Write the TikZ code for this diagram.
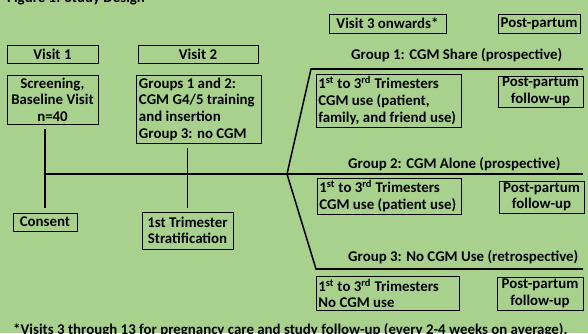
\documentclass[tikz,border=0pt]{standalone}
\usepackage{fontspec}
\setmainfont{Carlito}
\usetikzlibrary{positioning, calc}
\definecolor{Leaf}{HTML}{A9D18E}

\begin{document}
\begin{tikzpicture}[
        x=0.03cm, y=-0.03cm,
        font=\bfseries\fontsize{12.7}{14.2}\selectfont,
        link/.style={line width=1.3pt, draw=black},
        stage/.style={draw=black, line width=0.7pt, inner sep=1pt, align=center},
        plan/.style={draw=black, line width=0.7pt, inner xsep=2pt, inner ysep=2pt, align=flush left},
        grouplabel/.style={anchor=west, inner sep=0pt}
      ]
        \fill[Leaf] (0,0) rectangle (588,333);
        \useasboundingbox (0,0) rectangle (588,333);
        \node[anchor=base west, inner sep=0pt] (title) at (7,2) {Figure 1: Study Design};
        \node[stage, minimum width=2.73cm, minimum height=0.54cm] (visitone) at (52.5,54) {Visit 1};
        \node[stage, minimum width=3.6cm, minimum height=0.54cm] (visittwo) at (198,54) {Visit 2};
        \node[stage, minimum width=2.73cm, minimum height=1.47cm] (screening) at (52.5,99.5) {Screening,\\Baseline Visit\\n=40};
        \node[plan, minimum height=2.04cm, text width=3.6cm] (groups) at (199,109) {Groups 1 and 2:\\CGM G4/5 training\\and insertion\\Group 3: no CGM};
        \node[stage, minimum width=1.92cm, minimum height=0.54cm] (consent) at (45,222) {Consent};
        \node[stage, minimum width=2.73cm, minimum height=1.11cm] (strat) at (187.5,230.5) {1st Trimester\\Stratification};
        \node[stage, minimum width=3.51cm, minimum height=0.57cm] (visitthree) at (387.5,23.5) {Visit 3 onwards*};
        \node[stage, minimum width=2.46cm, minimum height=0.57cm] (postpartum) at (539,23.5) {Post-partum};
        \node[grouplabel] (gonelabel) at (351,55) {Group 1: CGM Share (prospective)};
        \node[grouplabel] (gtwolabel) at (348,164) {Group 2: CGM Alone (prospective)};
        \node[grouplabel] (gthreelabel) at (348,257) {Group 3: No CGM Use (retrospective)};
        \node[plan, minimum height=1.59cm, text width=4.21cm] (trione) at (388.5,100.5) {1\textsuperscript{st} to 3\textsuperscript{rd} Trimesters\\CGM use (patient,\\family, and friend use)};
        \node[stage, minimum width=2.55cm, minimum height=0.93cm] (ppone) at (540.5,91.5) {Post-partum\\follow-up};
        \node[plan, minimum height=1.02cm, text width=4.18cm] (tritwo) at (389,196) {1\textsuperscript{st} to 3\textsuperscript{rd} Trimesters\\CGM use (patient use)};
        \node[stage, minimum width=2.55cm, minimum height=0.96cm] (pptwo) at (541.5,197) {Post-partum\\follow-up};
        \node[plan, minimum height=0.99cm, text width=4.15cm] (trithree) at (387.5,293.5) {1\textsuperscript{st} to 3\textsuperscript{rd} Trimesters\\No CGM use};
        \node[stage, minimum width=2.58cm, minimum height=0.99cm] (ppthree) at (540,293.5) {Post-partum\\follow-up};
        \node[anchor=base west, inner sep=0pt] (note) at (13,334) {*Visits 3 through 13 for pregnancy care and study follow-up (every 2-4 weeks on average).};
        \coordinate (hub) at (287,174);
        \coordinate (gone) at (311,69);
        \coordinate (gthree) at (316,269);
        \coordinate (oneend) at (583,69);
        \coordinate (twoend) at (583,174);
        \coordinate (threeend) at (583,269);
        \draw[link, shorten <=3.5pt, shorten >=3.5pt] (screening.south -| consent.north) -- (consent.north);
        \draw[link, shorten <=4pt, shorten >=3pt] (groups.south -| strat.north) -- (strat.north);
        \draw[link] (consent.north |- hub) -- (twoend);
        \draw[link] (hub) -- (gone) -- (oneend);
        \draw[link] (hub) -- (gthree) -- (threeend);
      \end{tikzpicture}
\end{document}
